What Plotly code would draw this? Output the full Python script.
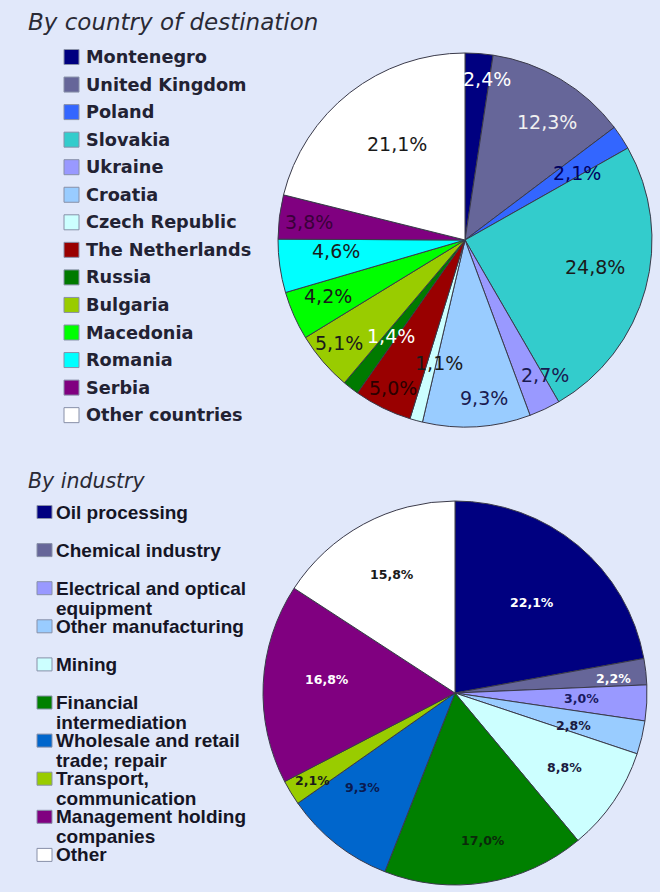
import math
import plotly.graph_objects as go

W, H = 660, 892
BG = "#E1E8FA"

# ---------------- data ----------------
country_labels = ["Montenegro", "United Kingdom", "Poland", "Slovakia", "Ukraine",
                  "Croatia", "Czech Republic", "The Netherlands", "Russia", "Bulgaria",
                  "Macedonia", "Romania", "Serbia", "Other countries"]
country_values = [2.4, 12.3, 2.1, 24.8, 2.7, 9.3, 1.1, 5.0, 1.4, 5.1, 4.2, 4.6, 3.8, 21.1]

industry_labels = ["Oil processing", "Chemical industry", "Electrical and optical<br>equipment",
                   "Other manufacturing", "Mining", "Financial<br>intermediation",
                   "Wholesale and retail<br>trade; repair", "Transport,<br>communication",
                   "Management holding<br>companies", "Other"]
industry_values = [22.1, 2.2, 3.0, 2.8, 8.8, 17.0, 9.3, 2.1, 16.8, 15.8]

# ---------------- styles ----------------
country_colors = ["#000080", "#666699", "#3366FF", "#33CCCC", "#9999FF", "#99CCFF",
                  "#CCFFFF", "#990000", "#007A00", "#99CC00", "#00FF00", "#00FFFF",
                  "#800080", "#FFFFFF"]
country_text_colors = ["#FFFFFF", "#F0F0F0", "#000060", "#1A1A1A", "#1A1A50", "#1A1A50",
                       "#1A1A1A", "#2A0000", "#FFFFFF", "#1A1A1A", "#1A1A1A", "#1A1A1A",
                       "#3A003A", "#1A1A1A"]
# label placement: fraction of radius and angular nudge (degrees) from slice middle
country_label_radius = [0.87, 0.77, 0.70, 0.71, 0.84, 0.85, 0.67, 0.88, 0.65, 0.87,
                        0.79, 0.69, 0.84, 0.63]
country_label_nudge = [3.4, 4.0, 2.3, -3.3, -5.2, -3.4, -3.3, 0, 0, 1.5, 1.5, 3.0, -0.6, 2.7]

industry_colors = ["#000080", "#666699", "#9999FF", "#99CCFF", "#CCFFFF", "#008000",
                   "#0066CC", "#99CC00", "#800080", "#FFFFFF"]
industry_text_colors = ["#FFFFFF", "#FFFFFF", "#1A1A60", "#1A1A40", "#1A1A40", "#0A2A0A",
                        "#0A1A50", "#1A1A1A", "#FFFFFF", "#1A1A1A"]
industry_label_radius = [0.62, 0.83, 0.66, 0.64, 0.69, 0.78, 0.69, 0.87, 0.67, 0.70]
industry_label_nudge = [0.4, 1.1, -0.6, 1.7, -0.3, -1.4, 6.0, -0.5, 3.3, 0.4]

# pie geometry in pixels (center x, center y, radius)
TOP = (465, 240, 187)
BOT = (455, 693, 192)


def domain(g):
    cx, cy, r = g
    return dict(x=[(cx - r) / W, (cx + r) / W], y=[1 - (cy + r) / H, 1 - (cy - r) / H])


def fmt(v):
    return ("%.1f%%" % v).replace(".", ",")


fig = go.Figure()
for labels, values, colors, g in [(country_labels, country_values, country_colors, TOP),
                                   (industry_labels, industry_values, industry_colors, BOT)]:
    fig.add_trace(go.Pie(labels=labels, values=values, sort=False, direction="clockwise",
                         rotation=0, textinfo="none", hoverinfo="label+percent",
                         marker=dict(colors=colors, line=dict(color="#3A3A4A", width=1)),
                         domain=domain(g), showlegend=False))

annotations = []
shapes = []


def slice_labels(values, tcolors, radii, nudges, g, font):
    cx, cy, r = g
    tot = sum(values)
    cum = 0.0
    for v, tc, f, n in zip(values, tcolors, radii, nudges):
        mid = (cum + v / 2) / tot * 2 * math.pi + math.radians(n)
        cum += v
        px = cx + f * r * math.sin(mid)
        py = cy - f * r * math.cos(mid)
        annotations.append(dict(x=px / W, y=1 - py / H, xref="paper", yref="paper",
                                xanchor="center", yanchor="middle",
                                text=fmt(v), showarrow=False,
                                font=dict(color=tc, **font)))


slice_labels(country_values, country_text_colors, country_label_radius, country_label_nudge,
             TOP, dict(family="DejaVu Sans", size=19))
slice_labels(industry_values, industry_text_colors, industry_label_radius, industry_label_nudge,
             BOT, dict(family="DejaVu Sans", size=12.5, weight="bold"))


def legend(labels, colors, x_sq, sq_w, sq_h, x_text, y0, step, line_h, font):
    for i, (lab, col) in enumerate(zip(labels, colors)):
        yc = y0 + i * step
        shapes.append(dict(type="rect", xref="paper", yref="paper",
                           x0=x_sq / W, x1=(x_sq + sq_w) / W,
                           y0=1 - (yc + sq_h / 2) / H, y1=1 - (yc - sq_h / 2) / H,
                           fillcolor=col, line=dict(color="#8890A8", width=1)))
        for j, part in enumerate(lab.split("<br>")):
            annotations.append(dict(x=x_text / W, y=1 - (yc + j * line_h) / H,
                                    xref="paper", yref="paper", xanchor="left",
                                    yanchor="middle", text=part, showarrow=False,
                                    font=font))


legend(country_labels, country_colors, 64, 15, 15, 84, 57, 27.55, 20,
       dict(family="DejaVu Sans", size=17.7, weight="bold", color="#222233"))
legend(industry_labels, industry_colors, 37, 15, 13, 54, 512, 38.1, 20,
       dict(family="Liberation Sans", size=19, weight="bold", color="#151525"))

annotations.append(dict(x=26 / W, y=1 - 22 / H, xref="paper", yref="paper", xanchor="left",
                        yanchor="middle", text="<i>By country of destination</i>",
                        showarrow=False,
                        font=dict(family="DejaVu Sans", size=23, color="#2A2A35")))
annotations.append(dict(x=26 / W, y=1 - 481 / H, xref="paper", yref="paper", xanchor="left",
                        yanchor="middle", text="<i>By industry</i>", showarrow=False,
                        font=dict(family="DejaVu Sans", size=20.5, color="#2A2A35")))

fig.update_layout(width=W, height=H, margin=dict(l=0, r=0, t=0, b=0),
                  paper_bgcolor=BG, plot_bgcolor=BG, showlegend=False,
                  annotations=annotations, shapes=shapes)

fig.write_html("out.html", config={"displayModeBar": False},
               post_script="document.body.style.margin='0';"
                           "document.body.style.overflow='hidden';")
